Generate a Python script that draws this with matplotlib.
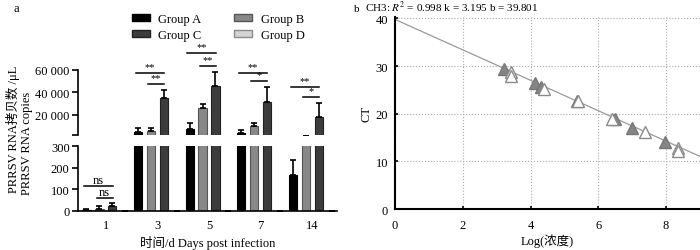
import numpy as np
import matplotlib
matplotlib.use("Agg")
import matplotlib.pyplot as plt
from matplotlib.patches import Patch

plt.rcParams['font.family'] = ['Liberation Serif', 'Noto Sans CJK SC']
plt.rcParams['mathtext.fontset'] = 'stix'
plt.rcParams['font.size'] = 8.5

# ---------------- data, panel a ----------------
days = ["1", "3", "5", "7", "14"]
groups = ["Group A", "Group B", "Group C", "Group D"]
val_a = [5, 4000, 7000, 3500, 165]
val_b = [8, 5000, 26000, 10000, 450]
val_c = [22, 35000, 46000, 31000, 18000]
val_d = [0, 0, 0, 0, 0]
err_a = [5, 4000, 5500, 3000, 70]
err_b = [15, 2500, 3500, 2000, 40]
err_c = [17, 7000, 12000, 14000, 12500]
err_d = [0, 0, 0, 0, 0]
# significance: (day index, y level, label) for long (A-C) and short (B-C) lines
sig_long = [(1, 57500, "**"), (2, 75100, "**"), (3, 57500, "**"), (4, 44800, "**")]
sig_short = [(1, 47200, "**"), (2, 64000, "**"), (3, 50000, "*"), (4, 35500, "*")]
sig_low = [(0, 114, "ns", -0.42), (0, 60, "ns", -0.18)]

# ---------------- data, panel b ----------------
fit_k = 3.195
fit_b = 39.801
std_x = [3.22, 4.12, 4.31, 5.36, 6.5, 6.99, 7.97]
std_ct = [29.4, 26.4, 25.7, 22.6, 18.8, 17.1, 14.1]
smp_x = [3.41, 3.41, 4.41, 5.4, 6.4, 7.38, 8.36, 8.36]
smp_ct = [28.7, 28.0, 25.2, 22.6, 19.0, 16.2, 12.9, 12.1]

fills = ["#000000", "#888888", "#3c3c3c", "#d4d4d4"]
edges = ["#000000", "#555555", "#222222", "#8a8a8a"]

fig = plt.figure(figsize=(7, 2.51), dpi=100)

ax_lo = fig.add_axes([0.1114, 0.1554, 0.37, 0.2589])
ax_hi = fig.add_axes([0.1114, 0.4562, 0.37, 0.2610])

x = np.arange(len(days))
offs = [-0.375, -0.125, 0.125, 0.375]
w = 0.16
vals = [val_a, val_b, val_c, val_d]
errs = [err_a, err_b, err_c, err_d]
handles = []
for i in range(4):
    for ax in (ax_lo, ax_hi):
        ax.bar(x + offs[i], vals[i], w, color=fills[i], edgecolor=edges[i],
               linewidth=0.8, yerr=[np.zeros(len(days)), errs[i]],
               error_kw=dict(ecolor="black", elinewidth=1.2, capsize=2.5, capthick=1.2))
    handles.append(Patch(facecolor=fills[i], edgecolor=edges[i], label=groups[i]))

for ax in (ax_lo, ax_hi):
    ax.set_xlim(-0.54, 4.48)
    ax.spines['top'].set_visible(False)
    ax.spines['right'].set_visible(False)
    ax.spines['left'].set_linewidth(1.2)
    ax.tick_params(axis='y', direction='out', length=4, width=1.2, pad=2, labelsize=9)

ax_lo.set_ylim(0, 300)
ax_lo.set_yticks([0, 100, 200, 300])
ax_lo.spines['bottom'].set_linewidth(1.2)
ax_lo.set_xticks(x)
ax_lo.set_xticklabels(days)
ax_lo.tick_params(axis='x', length=0, pad=6, labelsize=9)
ax_lo.set_xlabel("时间/d Days post infection", labelpad=3, fontsize=9)

ax_hi.set_ylim(1200, 60000)
ax_hi.spines['bottom'].set_visible(False)
ax_hi.set_xticks([])
ax_hi.set_yticks([1200, 20000, 40000, 60000])
ax_hi.set_yticklabels(["", "20 000", "40 000", "60 000"])

# significance lines
for d, y, t in sig_long:
    ax_hi.plot([d - 0.42, d + 0.13], [y, y], color="black", lw=1.1, clip_on=False)
    ax_hi.text(d - 0.145, y + 1500, t, ha="center", va="bottom", fontsize=7.5)
for d, y, t in sig_short:
    ax_hi.plot([d - 0.18, d + 0.13], [y, y], color="black", lw=1.1, clip_on=False)
    ax_hi.text(d - 0.025, y + 1500, t, ha="center", va="bottom", fontsize=7.5)
for d, y, t, x0 in sig_low:
    ax_lo.plot([d + x0, d + 0.13], [y, y], color="black", lw=1.1, clip_on=False)
    ax_lo.text(d + (x0 + 0.13) / 2, y + 2, t, ha="center", va="bottom", fontsize=9)

fig.legend(handles=[handles[0], handles[2], handles[1], handles[3]], ncol=2,
           loc="upper left", bbox_to_anchor=(0.188, 0.945), frameon=False,
           fontsize=9, handlelength=1.45, handleheight=0.45, handletextpad=0.7,
           columnspacing=2.6, labelspacing=0.35, borderpad=0, borderaxespad=0)

fig.text(0.018, 0.485, "PRRSV RNA拷贝数 /μL", rotation=90, ha="center", va="center", fontsize=9)
fig.text(0.039, 0.43, "PRRSV RNA copies", rotation=90, ha="center", va="center", fontsize=9)
fig.text(0.024, 0.965, "a", fontsize=9, ha="center", va="center")

# ---------------- panel b ----------------
ax_b = fig.add_axes([0.5643, 0.1633, 0.4357, 0.7667])
xx = np.array([0, 9])
ax_b.plot(xx, fit_b - fit_k * xx, color="#9a9a9a", lw=0.9, zorder=2)
ax_b.plot(std_x, std_ct, linestyle="none", marker="^", ms=8, color="#858585",
          markeredgecolor="#777777", zorder=3)
ax_b.plot(smp_x, smp_ct, linestyle="none", marker="^", ms=8, markerfacecolor="white",
          markeredgecolor="#8a8a8a", markeredgewidth=1.0, zorder=4)
ax_b.set_xlim(0, 9)
ax_b.set_ylim(0, 40.4)
ax_b.set_xticks([0, 2, 4, 6, 8])
ax_b.set_yticks([0, 10, 20, 30, 40])
ax_b.grid(True, linestyle=":", color="#aaaaaa", lw=0.8)
ax_b.spines['top'].set_visible(False)
ax_b.spines['right'].set_visible(False)
ax_b.spines['left'].set_linewidth(1.5)
ax_b.spines['bottom'].set_linewidth(1.5)
ax_b.tick_params(direction='in', length=2, width=1.2, pad=7, labelsize=9)
ax_b.tick_params(axis='y', pad=5)
ax_b.set_xlabel("Log(浓度)", fontsize=9, labelpad=2)
ax_b.set_ylabel("CT", fontsize=9, labelpad=2)
ax_b.set_axisbelow(True)

fig.text(0.505, 0.953, "b", fontsize=8, va="baseline")
fig.text(0.522, 0.953, "CH3: $R^2$ = 0.998 k = 3.195 b = 39.801", fontsize=8, va="baseline")

fig.savefig("out.png", dpi=100)
